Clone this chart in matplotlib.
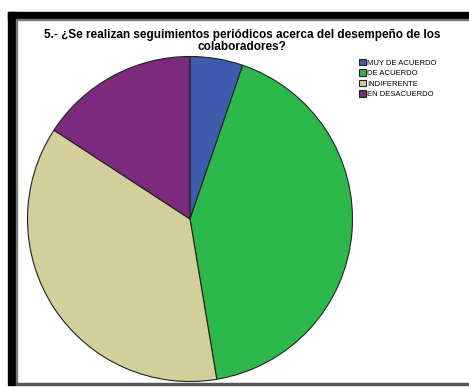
import matplotlib
matplotlib.use("Agg")
import matplotlib.pyplot as plt
from matplotlib.patches import Rectangle

plt.rcParams['font.family'] = ['Liberation Sans', 'DejaVu Sans']

# responses to question 5
labels = ["MUY DE ACUERDO", "DE ACUERDO", "INDIFERENTE", "EN DESACUERDO"]
counts = [3, 24, 21, 9]
colors = ["#3F5BAE", "#2DB84B", "#D3CF9B", "#7B2A7D"]

W, H = 469, 387
fig = plt.figure(figsize=(W / 100, H / 100), dpi=100)
fig.patch.set_facecolor("white")

# pie centred at (190, 219) px, radius ~162 px
cx, cy, r = 190, 219, 162.5
ax = fig.add_axes([(cx - r) / W, (H - cy - r) / H, 2 * r / W, 2 * r / H])
wedges, _ = ax.pie(counts, colors=colors, startangle=90, counterclock=False,
                   wedgeprops=dict(edgecolor="#222222", linewidth=0.8))
ax.set_xlim(-1, 1)
ax.set_ylim(-1, 1)
ax.set_aspect("auto")
ax.axis("off")

# frame around the chart
fig.patches.append(Rectangle((8 / W, 2 / H), 8 / W, (H - 14) / H,
                             transform=fig.transFigure, color="black"))
fig.patches.append(Rectangle((8 / W, (H - 19) / H), (W - 8) / W, 7 / H,
                             transform=fig.transFigure, color="black"))
fig.patches.append(Rectangle((16 / W, (H - 20) / H), (W - 16) / W, 1 / H,
                             transform=fig.transFigure, color="#777777"))
fig.patches.append(Rectangle((16 / W, 2 / H), 1 / W, (H - 22) / H,
                             transform=fig.transFigure, color="#777777"))
fig.patches.append(Rectangle((16 / W, 2 / H), (W - 16) / W, 2 / H,
                             transform=fig.transFigure, color="#555555"))

fig.text(242 / W, 1 - 41 / H,
         "5.- ¿Se realizan seguimientos periódicos acerca del desempeño de los\ncolaboradores?",
         ha="center", va="center", fontsize=8.5, fontweight="bold",
         linespacing=0.95)

fig.legend(wedges, labels, loc="upper left",
           bbox_to_anchor=(359 / W, 1 - 59 / H), frameon=False,
           fontsize=5.5, handlelength=0.9, handleheight=0.9,
           handletextpad=0.2, labelspacing=0.35, borderpad=0, borderaxespad=0)

fig.savefig("out.png", dpi=100)
